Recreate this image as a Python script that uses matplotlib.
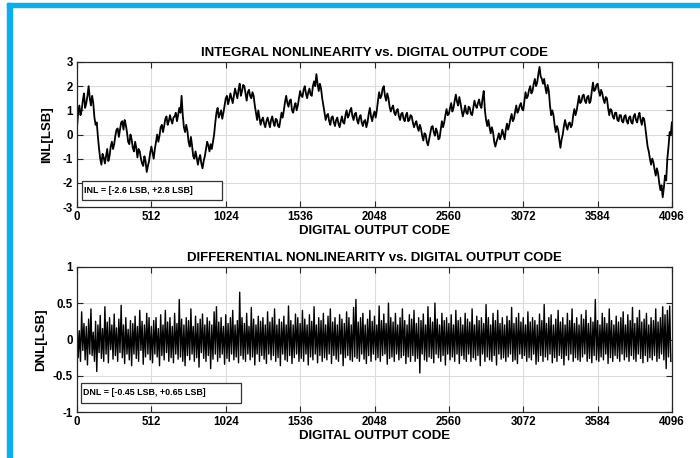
import numpy as np
import matplotlib
matplotlib.use('Agg')
import matplotlib.pyplot as plt
from matplotlib.patches import Rectangle

plt.rcParams['font.family'] = ['Liberation Sans', 'DejaVu Sans']
plt.rcParams['font.weight'] = 'bold'
plt.rcParams['axes.unicode_minus'] = False

# INL, every 8 codes (plus the last code)
inl_codes = list(range(0, 4096, 8)) + [4095]
inl_values = [
    0.3, 0.9, 1.2, 0.8, 1.0, 1.4, 1.7, 1.1, 1.3, 1.6, 2.0, 1.5, 1.2, 1.6, 1.3, 0.7,
    0.4, 0.5, -0.1, -0.6, -1.0, -1.25, -0.8, -0.95, -1.2, -0.9, -0.6, -1.1, -0.9, -0.5, -0.3, -0.6,
    -0.4, -0.05, 0.2, 0.25, -0.1, 0.2, 0.5, 0.55, 0.2, 0.6, 0.4, 0.1, -0.3, -0.4, 0.0, -0.2,
    -0.55, -0.7, -0.3, -0.55, -0.95, -0.6, -0.7, -1.0, -1.2, -1.3, -0.9, -1.1, -1.55, -1.3, -1.1, -0.75,
    -0.5, -0.75, -1.0, -0.6, -0.3, 0.0, -0.3, -0.05, 0.3, 0.4, 0.1, 0.35, 0.65, 0.75, 0.4, 0.55,
    0.8, 0.6, 0.45, 0.7, 0.75, 0.9, 0.55, 0.8, 1.1, 0.9, 1.6, 0.8, 0.3, 0.1, 0.4, 0.15,
    -0.3, -0.5, -0.1, -0.45, -0.9, -1.0, -0.7, -0.95, -1.25, -1.0, -0.85, -1.2, -1.4, -1.1, -0.9, -0.6,
    -0.3, -0.45, -0.7, -0.4, -0.6, -0.3, 0.0, 0.5, 0.9, 1.1, 0.7, 0.85, 1.0, 0.65, 0.9, 1.2,
    1.5, 1.6, 1.25, 1.45, 1.7, 1.5, 1.3, 1.6, 1.9, 1.7, 1.5, 1.85, 2.1, 1.6, 1.8, 2.05,
    2.0, 1.7, 1.4, 1.75, 1.85, 1.6, 1.5, 1.75, 1.6, 1.2, 0.9, 0.6, 1.0, 0.7, 0.4, 0.6,
    0.7, 0.45, 0.3, 0.55, 0.7, 0.5, 0.3, 0.6, 0.75, 0.5, 0.35, 0.65, 0.6, 0.35, 0.3, 0.6,
    0.9, 0.7, 1.0, 1.35, 1.6, 1.3, 1.15, 1.4, 1.45, 1.0, 0.9, 1.15, 1.3, 1.0, 1.2, 1.5,
    1.8, 1.6, 1.55, 1.85, 2.0, 1.7, 1.5, 1.75, 1.9, 1.65, 1.6, 2.0, 2.2, 2.0, 2.5, 2.1,
    1.8, 2.1, 1.9, 1.5, 1.2, 0.9, 0.6, 0.8, 0.85, 0.55, 0.4, 0.7, 0.75, 0.5, 0.35, 0.6,
    0.7, 0.45, 0.3, 0.55, 0.75, 0.5, 0.45, 0.8, 1.0, 0.7, 0.8, 1.0, 1.1, 0.75, 0.6, 0.85,
    0.9, 0.6, 0.45, 0.7, 0.8, 0.5, 0.35, 0.55, 0.6, 0.3, 0.5, 0.85, 1.1, 0.75, 0.55, 0.8,
    0.95, 0.7, 1.0, 1.4, 1.75, 1.5, 1.6, 1.9, 2.0, 1.6, 1.4, 1.7, 1.5, 1.15, 0.95, 1.1,
    1.2, 0.9, 0.8, 1.0, 1.05, 0.75, 0.6, 0.85, 0.9, 0.65, 0.55, 0.8, 0.9, 0.55, 0.6, 0.8,
    0.75, 0.5, 0.3, 0.45, 0.55, 0.3, 0.15, 0.4, 0.25, -0.05, -0.25, 0.05, 0.0, -0.3, -0.45, -0.2,
    0.05, 0.3, 0.35, 0.1, -0.05, 0.25, 0.1, -0.2, -0.15, 0.2, 0.55, 0.3, 0.5, 0.8, 1.05, 0.8,
    0.85, 1.1, 1.3, 0.95, 1.1, 1.4, 1.65, 1.35, 1.2, 1.55, 1.3, 1.0, 0.75, 0.95, 1.2, 0.9,
    0.85, 1.15, 1.1, 0.85, 0.8, 1.1, 1.4, 1.2, 1.1, 1.3, 1.45, 1.2, 1.1, 1.5, 1.8, 1.0,
    0.6, 0.35, 0.6, 0.3, 0.05, 0.3, 0.1, -0.3, -0.5, -0.3, -0.15, 0.05, -0.2, -0.05, 0.2, 0.0,
    -0.2, 0.2, 0.45, 0.2, 0.4, 0.65, 0.85, 0.55, 0.65, 0.95, 1.2, 0.9, 1.0, 1.2, 1.3, 1.05,
    1.0, 1.4, 1.75, 1.5, 1.6, 1.85, 2.0, 1.7, 1.8, 2.1, 2.3, 2.0, 2.15, 2.5, 2.8, 2.4,
    2.3, 2.1, 2.3, 1.95, 1.7, 2.05, 1.8, 1.2, 0.8, 1.0, 0.8, 0.4, 0.1, 0.35, 0.2, -0.2,
    -0.55, -0.2, 0.0, 0.35, 0.6, 0.35, 0.2, 0.45, 0.5, 0.3, 0.4, 0.8, 1.05, 0.8, 1.0, 1.3,
    1.6, 1.3, 1.35, 1.6, 1.65, 1.4, 1.3, 1.55, 1.6, 1.3, 1.4, 1.8, 2.15, 1.8, 1.85, 2.05,
    2.1, 1.8, 1.6, 1.85, 1.7, 1.45, 1.3, 1.55, 1.5, 1.1, 0.8, 1.05, 1.0, 0.75, 0.65, 0.9,
    0.9, 0.6, 0.55, 0.8, 0.8, 0.55, 0.5, 0.75, 0.8, 0.55, 0.45, 0.7, 0.75, 0.5, 0.45, 0.75,
    0.85, 0.6, 0.5, 0.75, 0.9, 0.6, 0.4, 0.7, 0.65, 0.3, -0.1, -0.5, -0.7, -1.0, -1.25, -1.0,
    -1.15, -1.45, -1.7, -1.4, -1.6, -2.0, -2.3, -2.1, -2.6, -2.2, -1.7, -1.9, -1.0, -0.5, 0.1, 0.0,
    0.5,
]

# DNL, every 8 codes
dnl_codes = list(range(0, 4096, 8))
dnl_values = [
    0.3, -0.25, 0.12, -0.3, 0.38, -0.15, 0.22, -0.28, 0.18, -0.35, 0.28, -0.2, 0.42, -0.22, 0.1, -0.3,
    0.25, -0.44, 0.2, -0.18, 0.33, -0.26, 0.15, -0.3, 0.45, -0.2, 0.24, -0.32, 0.3, -0.14, 0.2, -0.27,
    0.35, -0.22, 0.16, -0.3, 0.28, -0.18, 0.47, -0.25, 0.2, -0.33, 0.3, -0.2, 0.14, -0.28, 0.26, -0.36,
    0.22, -0.2, 0.32, -0.26, 0.18, -0.3, 0.4, -0.15, 0.25, -0.34, 0.2, -0.24, 0.36, -0.2, 0.3, -0.28,
    0.18, -0.32, 0.26, -0.2, 0.3, -0.24, 0.15, -0.36, 0.34, -0.22, 0.2, -0.28, 0.4, -0.18, 0.24, -0.3,
    0.3, -0.25, 0.18, -0.32, 0.36, -0.2, 0.22, -0.27, 0.55, -0.24, 0.28, -0.3, 0.2, -0.36, 0.3, -0.22,
    0.26, -0.28, 0.42, -0.2, 0.18, -0.3, 0.32, -0.25, 0.22, -0.38, 0.28, -0.18, 0.35, -0.26, 0.2, -0.3,
    0.3, -0.22, 0.25, -0.4, 0.2, -0.27, 0.38, -0.2, 0.45, -0.3, 0.24, -0.25, 0.3, -0.2, 0.18, -0.34,
    0.34, -0.26, 0.22, -0.3, 0.3, -0.2, 0.4, -0.28, 0.2, -0.24, 0.26, -0.32, 0.65, -0.22, 0.3, -0.27,
    0.22, -0.3, 0.36, -0.2, 0.18, -0.28, 0.44, -0.24, 0.28, -0.35, 0.2, -0.2, 0.32, -0.3, 0.25, -0.22,
    0.3, -0.27, 0.2, -0.33, 0.38, -0.2, 0.24, -0.28, 0.3, -0.22, 0.42, -0.3, 0.2, -0.25, 0.28, -0.36,
    0.24, -0.2, 0.32, -0.28, 0.2, -0.3, 0.46, -0.22, 0.26, -0.33, 0.2, -0.25, 0.35, -0.2, 0.3, -0.3,
    0.22, -0.26, 0.4, -0.3, 0.28, -0.2, 0.2, -0.35, 0.34, -0.24, 0.25, -0.28, 0.45, -0.2, 0.2, -0.32,
    0.3, -0.22, 0.26, -0.3, 0.36, -0.25, 0.2, -0.28, 0.32, -0.2, 0.42, -0.33, 0.24, -0.22, 0.3, -0.27,
    0.2, -0.3, 0.34, -0.2, 0.28, -0.36, 0.22, -0.25, 0.38, -0.22, 0.3, -0.28, 0.2, -0.3, 0.44, -0.24,
    0.55, -0.26, 0.24, -0.3, 0.3, -0.2, 0.36, -0.27, 0.2, -0.33, 0.28, -0.22, 0.4, -0.3, 0.25, -0.2,
    0.32, -0.28, 0.2, -0.25, 0.46, -0.3, 0.26, -0.22, 0.35, -0.2, 0.22, -0.34, 0.5, -0.26, 0.3, -0.24,
    0.24, -0.3, 0.36, -0.2, 0.2, -0.28, 0.3, -0.25, 0.42, -0.22, 0.26, -0.33, 0.2, -0.24, 0.34, -0.3,
    0.28, -0.22, 0.4, -0.3, 0.22, -0.26, 0.3, -0.46, 0.26, -0.2, 0.35, -0.28, 0.2, -0.3, 0.45, -0.24,
    0.3, -0.26, 0.24, -0.32, 0.5, -0.2, 0.28, -0.25, 0.2, -0.3, 0.36, -0.22, 0.26, -0.35, 0.3, -0.2,
    0.22, -0.28, 0.34, -0.24, 0.2, -0.3, 0.4, -0.2, 0.26, -0.33, 0.3, -0.22, 0.2, -0.27, 0.36, -0.3,
    0.28, -0.2, 0.24, -0.3, 0.42, -0.25, 0.2, -0.28, 0.32, -0.22, 0.26, -0.36, 0.3, -0.2, 0.22, -0.3,
    0.48, -0.24, 0.3, -0.28, 0.2, -0.3, 0.36, -0.22, 0.26, -0.35, 0.4, -0.2, 0.22, -0.27, 0.3, -0.25,
    0.2, -0.3, 0.32, -0.24, 0.26, -0.2, 0.44, -0.3, 0.22, -0.28, 0.3, -0.33, 0.36, -0.2, 0.24, -0.26,
    0.3, -0.22, 0.2, -0.3, 0.38, -0.25, 0.24, -0.28, 0.3, -0.2, 0.26, -0.34, 0.2, -0.3, 0.35, -0.22,
    0.26, -0.3, 0.48, -0.24, 0.22, -0.28, 0.3, -0.2, 0.34, -0.32, 0.2, -0.25, 0.28, -0.3, 0.4, -0.22,
    0.24, -0.26, 0.3, -0.35, 0.2, -0.22, 0.36, -0.28, 0.26, -0.2, 0.42, -0.3, 0.22, -0.25, 0.3, -0.28,
    0.2, -0.3, 0.34, -0.24, 0.28, -0.2, 0.4, -0.3, 0.22, -0.26, 0.3, -0.32, 0.24, -0.22, 0.55, -0.28,
    0.26, -0.3, 0.2, -0.24, 0.36, -0.28, 0.3, -0.2, 0.22, -0.33, 0.42, -0.25, 0.26, -0.3, 0.2, -0.22,
    0.32, -0.26, 0.24, -0.3, 0.3, -0.2, 0.38, -0.28, 0.2, -0.24, 0.34, -0.3, 0.26, -0.22, 0.44, -0.27,
    0.22, -0.3, 0.3, -0.2, 0.4, -0.26, 0.24, -0.32, 0.28, -0.22, 0.36, -0.3, 0.2, -0.25, 0.3, -0.28,
    0.26, -0.22, 0.42, -0.3, 0.24, -0.26, 0.3, -0.2, 0.45, -0.28, 0.34, -0.4, 0.4, -0.24, 0.46, -0.3,
]

x_ticks = [0, 512, 1024, 1536, 2048, 2560, 3072, 3584, 4096]
inl_yticks = [-3, -2, -1, 0, 1, 2, 3]
dnl_yticks = [-1, -0.5, 0, 0.5, 1]
dnl_yticklabels = ['-1', '-0.5', '0', '0.5', '1']

W, H = 700, 458
fig = plt.figure(figsize=(7, 4.58), dpi=100)

# blue frame (top and left)
blue = '#0AADEF'
fig.patches.append(Rectangle((7 / W, 1 - 7.3 / H), 1, 4 / H, transform=fig.transFigure,
                             color=blue, zorder=0))
fig.patches.append(Rectangle((7.3 / W, 0), 5 / W, 1 - 3.3 / H, transform=fig.transFigure,
                             color=blue, zorder=0))

ax1 = fig.add_axes([77 / W, 1 - 207 / H, 595 / W, 145 / H])
ax2 = fig.add_axes([77 / W, 1 - 412.3 / H, 595 / W, 145.6 / H])


def style(ax):
    ax.set_xlim(0, 4096)
    ax.set_xticks(x_ticks)
    ax.grid(True, color='#dcdcdc', linewidth=0.8)
    ax.set_axisbelow(True)
    ax.tick_params(direction='in', length=4, width=0.8, top=True, right=True,
                   labelsize=8.3, pad=3, colors='#262626')
    for lbl in ax.get_xticklabels() + ax.get_yticklabels():
        lbl.set_fontweight('bold')
        lbl.set_color('black')
    for s in ax.spines.values():
        s.set_color('#262626')
        s.set_linewidth(0.9)
    ax.set_xlabel('DIGITAL OUTPUT CODE', fontsize=9.5, fontweight='bold', labelpad=1)


ax1.plot(inl_codes, inl_values, color='black', linewidth=1.3)
ax1.set_ylim(-3, 3)
ax1.set_yticks(inl_yticks)
style(ax1)
ax1.set_title('INTEGRAL NONLINEARITY vs. DIGITAL OUTPUT CODE', fontsize=9.5,
              fontweight='bold', pad=4)
ax1.set_ylabel('INL[LSB]', fontsize=9.5, fontweight='bold', labelpad=7)
ax1.add_patch(Rectangle((0.0084, 0.048), 0.2353, 0.131, transform=ax1.transAxes,
                        facecolor='white', edgecolor='#333333', linewidth=0.9, zorder=5))
ax1.text(0.0125, 0.113, 'INL = [-2.6 LSB, +2.8 LSB]', transform=ax1.transAxes,
         fontsize=6.4, fontweight='bold', va='center', ha='left', zorder=6)

ax2.plot(dnl_codes, dnl_values, color='black', linewidth=1.0)
ax2.set_ylim(-1, 1)
ax2.set_yticks(dnl_yticks)
ax2.set_yticklabels(dnl_yticklabels)
style(ax2)
ax2.set_title('DIFFERENTIAL NONLINEARITY vs. DIGITAL OUTPUT CODE', fontsize=9.5,
              fontweight='bold', pad=4)
ax2.set_ylabel('DNL[LSB]', fontsize=9.5, fontweight='bold', labelpad=4)
ax2.add_patch(Rectangle((0.0067, 0.062), 0.2689, 0.141, transform=ax2.transAxes,
                        facecolor='white', edgecolor='#333333', linewidth=0.9, zorder=5))
ax2.text(0.0105, 0.133, 'DNL = [-0.45 LSB, +0.65 LSB]', transform=ax2.transAxes,
         fontsize=6.4, fontweight='bold', va='center', ha='left', zorder=6)

fig.savefig('out.png', dpi=100)
